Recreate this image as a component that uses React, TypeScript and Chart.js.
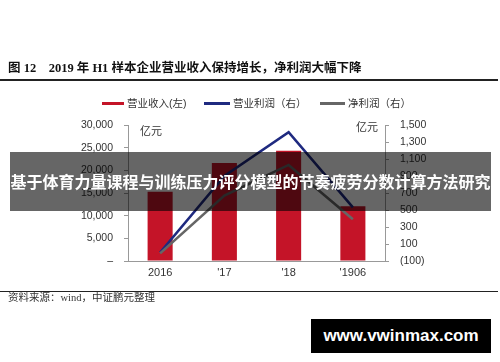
import React, { useEffect, useRef } from 'react';
import { Chart, registerables } from 'chart.js';

Chart.register(...registerables);

const categories = ['2016', "'17", "'18", "'1906"];
const revenue = [15300, 21600, 24300, 12100];
const operatingProfit = [0, 900, 1415, 530];
const netProfit = [-10, 670, 1030, 390];

const leftMin = 0;
const leftMax = 30000;
const leftStep = 5000;
const rightMin = -100;
const rightMax = 1500;
const rightStep = 200;

const seriesNames = ['营业收入(左)', '营业利润（右）', '净利润（右）'];
const seriesColors = ['#c41428', '#1f2a80', '#666666'];

const titleText = '图 12    2019 年 H1 样本企业营业收入保持增长，净利润大幅下降';
const sourceText = '资料来源：wind，中证鹏元整理';
const bannerText = '基于体育力量课程与训练压力评分模型的节奏疲劳分数计算方法研究';
const watermarkText = 'www.vwinmax.com';
const unitText = '亿元';

const sansFont = '"Liberation Sans", "Noto Sans CJK SC", sans-serif';
const serifFont = '"Liberation Serif", "Noto Sans CJK SC", serif';

function fmt(v: number) {
  return Math.abs(v).toLocaleString('en-US');
}

export default function App() {
  const ref = useRef<HTMLCanvasElement | null>(null);

  useEffect(() => {
    const canvas = ref.current;
    if (!canvas) return;
    const chart = new Chart(canvas, {
      type: 'bar',
      data: {
        labels: categories,
        datasets: [
          {
            type: 'bar',
            label: seriesNames[0],
            data: revenue,
            backgroundColor: seriesColors[0],
            yAxisID: 'y',
            categoryPercentage: 1,
            barPercentage: 0.39,
            order: 3,
          },
          {
            type: 'line',
            label: seriesNames[1],
            data: operatingProfit,
            borderColor: seriesColors[1],
            borderWidth: 2.6,
            pointRadius: 0,
            tension: 0,
            yAxisID: 'y1',
            order: 2,
          },
          {
            type: 'line',
            label: seriesNames[2],
            data: netProfit,
            borderColor: seriesColors[2],
            borderWidth: 2.6,
            pointRadius: 0,
            tension: 0,
            yAxisID: 'y1',
            order: 1,
          },
        ] as any,
      },
      options: {
        responsive: false,
        animation: false,
        layout: { padding: { left: 0, right: 0, top: 125, bottom: 71 } },
        plugins: { legend: { display: false }, tooltip: { enabled: false } },
        scales: {
          x: {
            grid: { display: false, drawTicks: false },
            border: { display: true, color: '#999999', width: 1 },
            ticks: { color: '#333', font: { family: sansFont, size: 11 }, padding: 5 },
            afterFit: (s: any) => { s.height = 30; },
          },
          y: {
            position: 'left',
            min: leftMin,
            max: leftMax,
            grid: { drawOnChartArea: false, drawTicks: true, tickLength: 4, color: '#999999' },
            border: { display: true, color: '#999999', width: 1 },
            ticks: {
              stepSize: leftStep,
              color: '#333',
              padding: 11,
              font: { family: sansFont, size: 10.5 },
              callback: (v: any) => (Number(v) === 0 ? '–' : fmt(Number(v))),
            },
            afterFit: (s: any) => { s.width = 128; },
          },
          y1: {
            position: 'right',
            min: rightMin,
            max: rightMax,
            grid: { drawOnChartArea: false, drawTicks: true, tickLength: 4, color: '#999999' },
            border: { display: true, color: '#999999', width: 1 },
            ticks: {
              stepSize: rightStep,
              color: '#333',
              padding: 11,
              font: { family: sansFont, size: 10.5 },
              callback: (v: any) => (Number(v) < 0 ? `(${fmt(Number(v))})` : fmt(Number(v))),
            },
            afterFit: (s: any) => { s.width = 115; },
          },
        },
      } as any,
    });
    return () => chart.destroy();
  }, []);

  const abs = (o: React.CSSProperties): React.CSSProperties => ({ position: 'absolute', ...o });

  return (
    <div style={{ position: 'fixed', left: 0, top: 0, width: 500, height: 362, background: '#fff', overflow: 'hidden' }}>
      <canvas ref={ref} width={500} height={362} style={abs({ left: 0, top: 0, width: 500, height: 362 })} />
      <div style={abs({ left: 8, top: 59, fontFamily: serifFont, fontWeight: 'bold', fontSize: 12.5, lineHeight: '18px', whiteSpace: 'pre', color: '#111' })}>
        {titleText}
      </div>
      <div style={abs({ left: 0, top: 79, width: 498, height: 1.5, background: '#222' })} />
      {seriesNames.map((n, i) => {
        const sx = [102, 204, 320][i];
        const sw = [22, 26, 25][i];
        return (
          <React.Fragment key={n}>
            <div style={abs({ left: sx, top: 102, width: sw, height: 3, background: seriesColors[i] })} />
            <div style={abs({ left: sx + sw + 3, top: 96, fontFamily: sansFont, fontSize: 10.5, lineHeight: '14px', color: '#333', whiteSpace: 'pre' })}>
              {n}
            </div>
          </React.Fragment>
        );
      })}
      <div style={abs({ left: 140, top: 124, fontFamily: sansFont, fontSize: 11, lineHeight: '14px', color: '#333' })}>{unitText}</div>
      <div style={abs({ left: 356, top: 120, fontFamily: sansFont, fontSize: 11, lineHeight: '14px', color: '#333' })}>{unitText}</div>
      <div style={abs({ left: 0, top: 291, width: 498, height: 1, background: '#222' })} />
      <div style={abs({ left: 8, top: 291, fontFamily: serifFont, fontSize: 10.5, lineHeight: '14px', color: '#333', whiteSpace: 'pre' })}>
        {sourceText}
      </div>
      <div style={abs({ left: 10, top: 152, width: 481, height: 59, background: 'rgba(0,0,0,0.6)', color: '#fff', textAlign: 'center', fontFamily: '"Noto Sans CJK SC", sans-serif', fontWeight: 'bold', fontSize: 16, lineHeight: '59px', whiteSpace: 'nowrap' })}>
        {bannerText}
      </div>
      <div style={abs({ left: 311, top: 319, width: 180, height: 34, background: '#000', color: '#fff', textAlign: 'center', fontFamily: '"Liberation Sans", Arial, sans-serif', fontWeight: 'bold', fontSize: 17, lineHeight: '34px' })}>
        {watermarkText}
      </div>
    </div>
  );
}
